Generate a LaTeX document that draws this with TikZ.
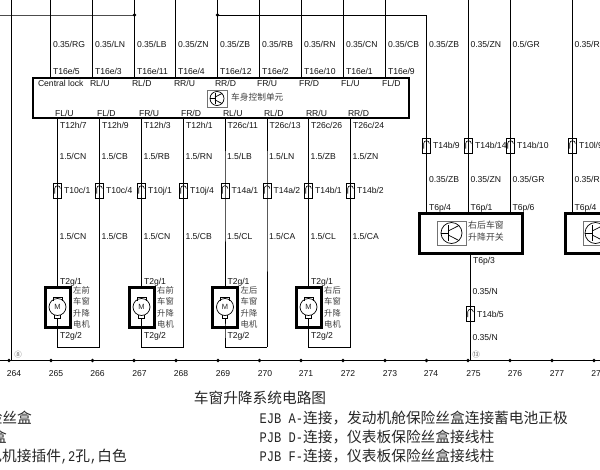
\documentclass[tikz,border=0pt]{standalone}
\usepackage{fontspec}
\setmainfont{Liberation Sans}
\newfontfamily\cjk{Noto Sans CJK SC}
\newfontfamily\mono[FakeStretch=0.82]{Liberation Mono}
\newcommand{\mn}[1]{{\mono\fontsize{14.7}{16}\selectfont #1}}
\newcommand{\fwc}{\char"FF0C\relax}
\tikzset{
  wire/.style={draw=black,line width=1pt},
  lbl/.style={anchor=base west,inner sep=0pt,outer sep=0pt,text=black!92,font=\fontsize{8.6}{10}\selectfont},
  num/.style={anchor=base,inner sep=0pt,text=black!92,font=\fontsize{8.6}{10}\selectfont},
  cjklbl/.style={anchor=base west,inner sep=0pt,text=black!75,font=\cjk\fontsize{8.3}{11.5}\selectfont},
  stack/.style={anchor=north west,inner sep=0pt,align=left,text=black!75,font=\cjk\fontsize{8.3}{11.5}\selectfont},
  bigcjk/.style={inner sep=0pt,text=black!85,font=\cjk\fontsize{14.7}{16}\selectfont},
  circ/.style={anchor=center,inner sep=0pt,text=black!60,font=\cjk\fontsize{7.5}{8}\selectfont},
  conn/.style={draw=black,line width=0.7pt,rectangle,minimum width=8pt,minimum height=15pt,inner sep=0pt,outer sep=0pt},
  thick box/.style={draw=black,rectangle,inner sep=0pt,outer sep=0pt},
  dot/.style={circle,fill=black,inner sep=0pt,minimum size=3.6pt},
  iconframe/.style={draw=black!55,line width=0.7pt,rectangle,inner sep=0pt},
  iconring/.style={draw=black,line width=0.7pt,circle,inner sep=0pt},
}
\newcommand{\connsym}[5]{% name, x, y, label, label x
  \node[conn] (#1) at (#2,#3) {};
  \draw[line width=0.6pt] (#2-2.8,#3+3) -- (#2-2.8,#3-2) arc[start angle=180,end angle=0,radius=2.8pt];
  \node[lbl] (#1l) at (#5,#3+3) {#4};
}
\newcommand{\transring}[4]{% name, cx, cy, radius
  \node[iconring,minimum size=#4*2pt] (#1r) at (#2,#3) {};
  \draw[line width=0.7pt] (#1r.west) -- (#2-0.3*#4,#3);
  \draw[line width=0.7pt] (#2-0.3*#4,#3-0.72*#4) -- (#2-0.3*#4,#3+0.72*#4);
  \draw[line width=0.7pt] (#2-0.3*#4,#3-0.2*#4) -- (#2+0.72*#4,#3-0.72*#4);
  \draw[line width=0.7pt] (#2-0.3*#4,#3+0.2*#4) -- (#2+0.72*#4,#3+0.72*#4);
}
\newcommand{\motorsym}[7]{% name, x, partner x, four label rows
  \node[thick box,line width=3pt,minimum width=25pt,minimum height=40pt] (#1) at (#2,307.5) {};
  \node[iconring,minimum size=17pt] (#1r) at (#2,307) {};
  \node[font=\fontsize{7.5}{8}\selectfont,inner sep=0pt,text=black!85] (#1m) at (#2,307) {M};
  \draw[line width=0.7pt] (#2-4.5,301.2) -- (#2-4.5,297) -- (#2+4.5,297) -- (#2+4.5,301.2);
  \draw[line width=0.7pt] (#2-2.8,314.6) -- (#2-2.8,318) -- (#2+2.8,318) -- (#2+2.8,314.6);
  \coordinate (#1b) at (#2,329);
  \coordinate (#1t) at (#2,286);
  \coordinate (#1c) at (#2,347.3);
  \coordinate (#1d) at (#3,347.3);
  \coordinate (#1s) at (#2,318);
  \draw[wire] (#1s) -- (#1b) -- (#1c) -- (#1d);
  \node[lbl] (#1a) at (#2+2.5,284) {T2g/1};
  \node[lbl] (#1e) at (#2+2.5,338) {T2g/2};
  \node[stack] (#1n) at (#2+15.5,286) {#4\\#5\\#6\\#7};
}
\begin{document}
\begin{tikzpicture}[x=1pt,y=-1pt]
\useasboundingbox (0,0) rectangle (600,469);
\clip (0,0) rectangle (600,469);
\fill[white] (0,0) rectangle (600,469);

% module
\node[thick box,line width=2pt,minimum width=376pt,minimum height=40pt] (bcm) at (220.5,97.5) {};
\node[iconframe,minimum width=20pt,minimum height=17pt] (bcmf) at (217,98.5) {};
\transring{bcm}{217}{98.5}{7}
\node[cjklbl,font=\cjk\fontsize{8.7}{10}\selectfont] (bcmt) at (231,100) {车身控制单元};
\node[lbl] (cl) at (38,86.5) {Central lock};

% feed line and bottom line
\coordinate (fl) at (0,15);
\coordinate (fa) at (134.5,15);
\coordinate (fb) at (217.5,15);
\coordinate (fc) at (426.5,15);
\coordinate (busl) at (0,360.5);
\coordinate (busr) at (600,360.5);
\draw[wire,draw=black!70] (fl) -- (fa);
\draw[wire] (fb) -- (fc);
\draw[wire] (busl) -- (busr);
\node[dot] (da) at (fa) {};
\node[dot] (db) at (fb) {};
\coordinate (gt) at (11.5,0);
\coordinate (gb) at (11.5,360.5);
\draw[wire] (gt) -- (gb);

% upper wires of the module
\foreach \n/\x/\g/\t/\u/\vx in {
  a/50.5/RG/T16e\slash 5/RL\slash U/90,
  b/92.5/LN/T16e\slash 3/RL\slash D/132,
  c/134.5/LB/T16e\slash 11/RR\slash U/174,
  d/175.5/ZN/T16e\slash 4/RR\slash D/215,
  e/217.5/ZB/T16e\slash 12/FR\slash U/257,
  f/259.5/RB/T16e\slash 2/FR\slash D/299,
  g/301.5/RN/T16e\slash 10/FL\slash U/341,
  h/343.5/CN/T16e\slash 1/FL\slash D/382}{
  \coordinate (u\n) at (\x,0);
  \coordinate (w\n) at (\x,77);
  \draw[wire] (u\n) -- (w\n);
  \node[lbl] (ug\n) at (\x+2.5,47) {0.35/\g};
  \node[lbl] (ut\n) at (\x+2.5,74) {\t};
  \node[lbl] (up\n) at (\vx,86.5) {\u};
}
\coordinate (ui) at (385.5,0);
\coordinate (wi) at (385.5,77);
\draw[wire] (ui) -- (wi);
\node[lbl] (ugi) at (388,47) {0.35/CB};
\node[lbl] (uti) at (388,74) {T16e/9};

% lower wires of the module
\foreach \n/\x/\p/\t/\g/\c/\cl/\px in {
  a/57.5/FL\slash U/T12h\slash 7/CN/T10c\slash 1/CN/55,
  b/99.5/FL\slash D/T12h\slash 9/CB/T10c\slash 4/CB/97,
  c/141.5/FR\slash U/T12h\slash 3/RB/T10j\slash 1/CN/139,
  d/183.5/FR\slash D/T12h\slash 1/RN/T10j\slash 4/CB/181,
  e/225/RL\slash U/T26c\slash 11/LB/T14a\slash 1/CL/223,
  f/267/RL\slash D/T26c\slash 13/LN/T14a\slash 2/CA/264,
  g/308.5/RR\slash U/T26c\slash 26/ZB/T14b\slash 1/CL/306,
  h/350.5/RR\slash D/T26c\slash 24/ZN/T14b\slash 2/CA/348}{
  \coordinate (lt\n) at (\x,118);
  \node[lbl] (lp\n) at (\px,116) {\p};
  \node[lbl] (lw\n) at (\x+2.5,128.5) {\t};
  \node[lbl] (lg\n) at (\x+2,159) {1.5/\g};
  \node[lbl] (lh\n) at (\x+2,239) {1.5/\cl};
  \connsym{lc\n}{\x}{190.5}{\c}{\x+6.5}
}

% motors
\motorsym{ma}{57.5}{99.5}{左前}{车窗}{升降}{电机}
\motorsym{mb}{141.5}{183.5}{右前}{车窗}{升降}{电机}
\motorsym{mc}{225}{267}{左后}{车窗}{升降}{电机}
\motorsym{md}{308.5}{350.5}{右后}{车窗}{升降}{电机}

\draw[wire] (lta) -- (lca.north) -- (lca.south) -- (mat);
\draw[wire] (ltb) -- (lcb.north) -- (lcb.south) -- (mad);
\draw[wire] (ltc) -- (lcc.north) -- (lcc.south) -- (mbt);
\draw[wire] (ltd) -- (lcd.north) -- (lcd.south) -- (mbd);
\draw[wire] (lte) -- (lce.north) -- (lce.south) -- (mct);
\draw[wire] (ltf) -- (lcf.north) -- (lcf.south) -- (mcd);
\draw[wire] (ltg) -- (lcg.north) -- (lcg.south) -- (mdt);
\draw[wire] (lth) -- (lch.north) -- (lch.south) -- (mdd);

% switches
\node[thick box,line width=3pt,minimum width=103pt,minimum height=40pt] (sw1) at (470.5,233.5) {};
\node[iconframe,minimum width=29pt,minimum height=24pt] (sw1f) at (451.5,233) {};
\transring{sw1}{451.5}{233}{10.5}
\node[stack,font=\cjk\fontsize{8.9}{11.7}\selectfont] (sw1t) at (468,221) {右后车窗\\升降开关};
\node[thick box,line width=3pt,minimum width=103pt,minimum height=40pt] (sw2) at (616.5,233.5) {};
\node[iconframe,minimum width=29pt,minimum height=24pt] (sw2f) at (597.5,233) {};
\transring{sw2}{595.5}{233}{10.5}

% wires to the switches
\coordinate (ti) at (426.5,15);
\coordinate (tj) at (468.5,0);
\coordinate (tk) at (510.5,0);
\coordinate (tl) at (572.5,0);
\connsym{ci}{426.5}{145.5}{T14b/9}{433}
\connsym{cj}{468.5}{145.5}{T14b/14}{475}
\connsym{ck}{510.5}{145.5}{T14b/10}{517}
\connsym{cl}{572.5}{145.5}{T10l/9}{579}
\foreach \n/\x in {i/426.5,j/468.5,k/510.5,l/572.5}{
  \coordinate (s\n) at (\x,212);
  \draw[wire] (t\n) -- (c\n.north) -- (c\n.south) -- (s\n);
}
\node[lbl] (g1) at (429,47) {0.35/ZB};
\node[lbl] (g2) at (470.5,47) {0.35/ZN};
\node[lbl] (g3) at (512.5,47) {0.5/GR};
\node[lbl] (g4) at (574.5,47) {0.35/RG};
\node[lbl] (h1) at (429,182) {0.35/ZB};
\node[lbl] (h2) at (470.5,182) {0.35/ZN};
\node[lbl] (h3) at (512.5,182) {0.35/GR};
\node[lbl] (h4) at (574.5,182) {0.35/RG};
\node[lbl] (p1) at (429,210) {T6p/4};
\node[lbl] (p2) at (470.5,210) {T6p/1};
\node[lbl] (p3) at (512.5,210) {T6p/6};
\node[lbl] (p4) at (574.5,210) {T6p/4};

% ground wire of the switch
\coordinate (st) at (470.5,255);
\coordinate (sb) at (470.5,360.5);
\draw[wire] (st) -- (sb);
\node[lbl] (p5) at (473,263) {T6p/3};
\node[lbl] (n1) at (472.5,294) {0.35/N};
\node[lbl] (n2) at (472.5,340) {0.35/N};
\connsym{cg}{470.5}{314}{T14b/5}{477}
\node[circ] (m13) at (476,355) {⑬};
\node[circ] (m8) at (18,355) {⑧};

% bus dots and numbers
\foreach \n/\d/\x in {264/9/14,265/51/56,266/92.5/97.5,267/134/139.5,268/176/181,269/218/223,270/259.5/265,271/301/306,272/343/348,273/385/390,274/426.5/431,275/468/473.5,276/510/515,277/552/557,278/594/598.5}{
  \node[dot] (bd\n) at (\d,360.5) {};
  \node[num] (bn\n) at (\x,376) {\n};
}

% legend
\node[bigcjk] (title) at (260,398) {车窗升降系统电路图};
\node[bigcjk,anchor=base east] (q1) at (32,423) {保险丝盒};
\node[bigcjk,anchor=base east] (q2) at (7,442) {丝盒};
\node[bigcjk,anchor=base east] (q3) at (127,461) {电机接插件\mn{,2}孔\mn{,}白色};
\node[bigcjk,anchor=base west] (r1) at (259.5,423) {\mn{EJB A-}连接\fwc{}发动机舱保险丝盒连接蓄电池正极};
\node[bigcjk,anchor=base west] (r2) at (259.5,442) {\mn{PJB D-}连接\fwc{}仪表板保险丝盒接线柱};
\node[bigcjk,anchor=base west] (r3) at (259.5,461) {\mn{PJB F-}连接\fwc{}仪表板保险丝盒接线柱};
\end{tikzpicture}
\end{document}
